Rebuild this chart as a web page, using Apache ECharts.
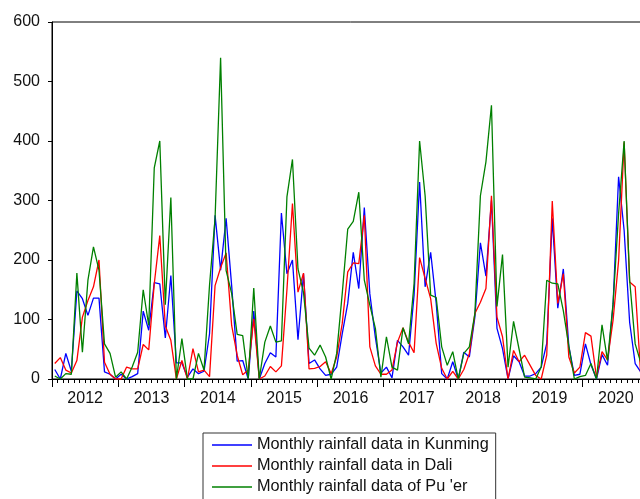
<!DOCTYPE html>
<html>
<head>
<meta charset="utf-8">
<script src="https://cdn.jsdelivr.net/npm/echarts@6/dist/echarts.min.js"></script>
<style>
html,body{margin:0;padding:0;width:640px;height:499px;overflow:hidden;background:#fff;}
#c{width:700px;height:560px;}
</style>
</head>
<body>
<div id="c"></div>
<script>
// Years shown on the time axis
var years = ['2012','2013','2014','2015','2016','2017','2018','2019','2020'];
// Monthly categories 2012M01 .. 2020M12
var months = [];
years.forEach(function(y){ for (var m = 1; m <= 12; m++) months.push(y + 'M' + (m < 10 ? '0' + m : m)); });

var kunming = [
  16, 0, 43, 13, 148, 135, 107, 136, 136, 12, 8, 0,
  8, 0, 4, 9, 114, 82, 162, 160, 69, 174, 27, 27,
  3, 17, 9, 13, 76, 275, 183, 270, 157, 30, 31, 0,
  114, 0, 26, 44, 37, 279, 177, 200, 66, 177, 26, 32,
  17, 6, 8, 20, 76, 127, 213, 152, 288, 143, 70, 10,
  20, 2, 65, 54, 40, 141, 331, 155, 213, 128, 9, 0,
  29, 0, 45, 37, 104, 229, 173, 300, 85, 51, 0, 39,
  29, 5, 5, 9, 20, 60, 270, 119, 185, 55, 6, 8,
  59, 24, 0, 41, 23, 125, 340, 250, 95, 26, 12, 5
];
var dali = [
  26, 36, 15, 10, 31, 104, 132, 155, 200, 28, 8, 0,
  0, 20, 17, 17, 58, 49, 160, 241, 89, 65, 0, 31,
  0, 51, 12, 15, 4, 157, 187, 212, 90, 40, 7, 15,
  101, 0, 5, 21, 12, 22, 150, 295, 146, 178, 17, 18,
  21, 29, 9, 37, 93, 180, 195, 194, 275, 54, 22, 8,
  8, 15, 62, 86, 62, 44, 204, 169, 135, 60, 18, 0,
  13, 0, 16, 43, 110, 129, 152, 308, 104, 71, 0, 48,
  29, 40, 23, 6, 0, 40, 299, 127, 177, 37, 10, 20,
  78, 72, 3, 46, 32, 99, 199, 398, 163, 155, 8, 5
];
var puer = [
  5, 0, 9, 8, 178, 45, 166, 222, 183, 59, 43, 3,
  12, 0, 20, 45, 150, 90, 355, 400, 125, 305, 0, 68,
  0, 0, 43, 15, 158, 270, 540, 182, 144, 75, 73, 0,
  153, 0, 62, 89, 62, 64, 306, 369, 185, 145, 52, 40,
  57, 37, 0, 43, 143, 252, 265, 314, 166, 124, 85, 3,
  71, 20, 15, 86, 59, 160, 400, 308, 141, 137, 54, 23,
  46, 0, 43, 54, 110, 308, 365, 460, 122, 209, 20, 97,
  50, 3, 2, 0, 20, 166, 161, 160, 115, 55, 0, 4,
  6, 26, 0, 91, 31, 127, 278, 400, 166, 59, 28, 10
];
var yTicks = [0, 100, 200, 300, 400, 500, 600];

var chart = echarts.init(document.getElementById('c'), null, {renderer: 'canvas'});
var font = "'Liberation Sans', Arial, sans-serif";
chart.setOption({
  animation: false,
  backgroundColor: '#fff',
  grid: {left: 52, top: 22, width: 597, height: 357, show: true, borderColor: '#000', borderWidth: 1, backgroundColor: 'transparent'},
  legend: {
    orient: 'vertical', left: 203, top: 433,
    padding: [3, 7, 8, 9],
    itemWidth: 40, itemHeight: 1.5, itemGap: 3, itemTextGap: 7,
    icon: 'rect',
    borderColor: '#333', borderWidth: 1,
    textStyle: {fontFamily: font, fontSize: 16.3, color: '#111', lineHeight: 18},
    data: ['Monthly rainfall data in Kunming', 'Monthly rainfall data in Dali', "Monthly rainfall data of Pu 'er"]
  },
  xAxis: [
    {type: 'category', data: months, boundaryGap: true, position: 'bottom',
     axisLine: {show: true, lineStyle: {color: '#000', width: 1}},
     axisTick: {show: true, interval: 0, length: 4, lineStyle: {color: '#000'}},
     axisLabel: {show: false}, splitLine: {show: false}},
    {type: 'category', data: years, boundaryGap: true, position: 'bottom', gridIndex: 0,
     axisLine: {show: false},
     axisTick: {show: true, interval: 0, length: 8, lineStyle: {color: '#000'}},
     axisLabel: {show: true, interval: 0, margin: 12, fontFamily: font, fontSize: 16, color: '#111'},
     splitLine: {show: false}}
  ],
  yAxis: {
    type: 'value', min: yTicks[0], max: yTicks[yTicks.length - 1], interval: 100,
    axisLine: {show: true, lineStyle: {color: '#000'}},
    axisTick: {show: true, length: 4, lineStyle: {color: '#000'}},
    axisLabel: {margin: 12, fontFamily: font, fontSize: 16, color: '#111'},
    splitLine: {show: false}
  },
  series: [
    {name: 'Monthly rainfall data in Kunming', type: 'line', data: kunming, symbol: 'none', color: '#0000ff', lineStyle: {width: 1.3, color: '#0000ff'}},
    {name: 'Monthly rainfall data in Dali', type: 'line', data: dali, symbol: 'none', color: '#ff0000', lineStyle: {width: 1.3, color: '#ff0000'}},
    {name: "Monthly rainfall data of Pu 'er", type: 'line', data: puer, symbol: 'none', color: '#008000', lineStyle: {width: 1.3, color: '#008000'}}
  ]
});
</script>
</body>
</html>
